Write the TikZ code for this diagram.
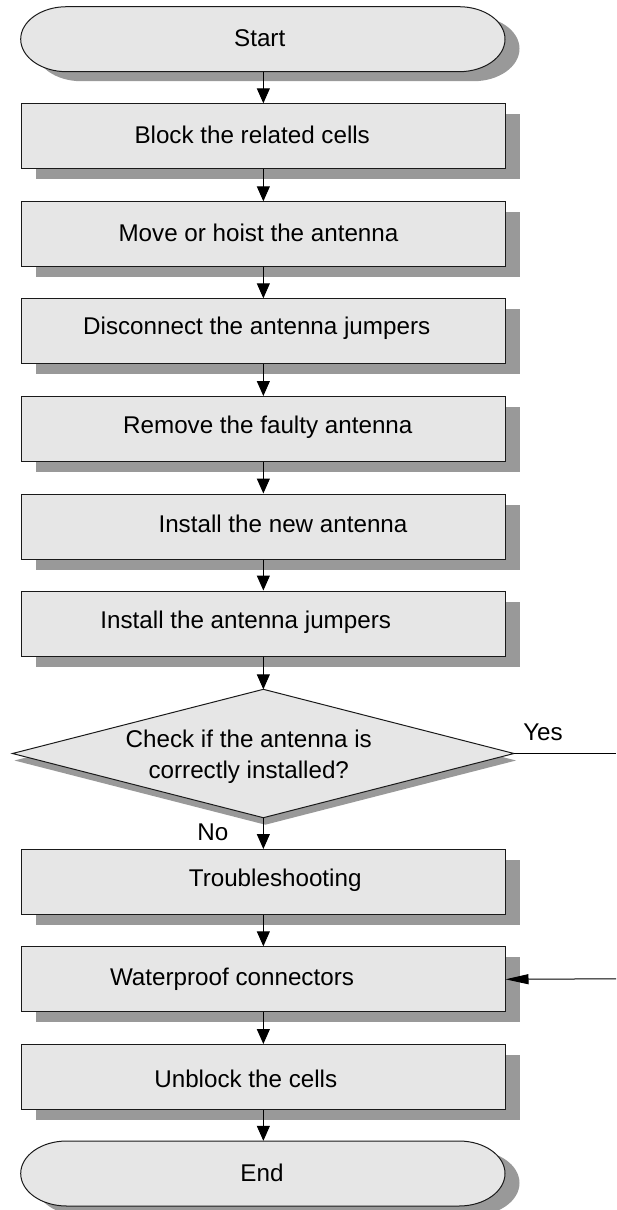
\documentclass[tikz,border=0pt]{standalone}
\usepackage{fontspec}
\setmainfont{Liberation Sans}
\usetikzlibrary{arrows.meta,shadows}
\definecolor{boxfill}{HTML}{E6E6E6}
\definecolor{shadowgray}{HTML}{999999}
\definecolor{edgecol}{HTML}{1A1A1A}
\begin{document}
\begin{tikzpicture}[x=1pt,y=-1pt,
  boxshadow/.style={drop shadow={shadow xshift=14.5pt,shadow yshift=-10.5pt,fill=shadowgray,opacity=1}},
  stepbox/.style={draw=edgecol,line width=1pt,fill=boxfill,minimum width=483.3pt,minimum height=65pt,inner sep=0pt,anchor=north,boxshadow},
  shapefill/.style={draw=edgecol,line width=1pt,fill=boxfill},
  anchorbox/.style={draw=none,fill=none,minimum width=484.3pt,minimum height=65pt,inner sep=0pt},
  lbl/.style={anchor=base,inner sep=0pt,font=\fontsize{24.2}{29}\selectfont},
  flow/.style={draw=black,line width=1pt,-{Triangle[length=15pt,width=13pt]}},
  plainline/.style={draw=black,line width=1pt},
  sideflow/.style={draw=black,line width=1pt,-{Triangle[length=23pt,width=10pt]}},
]
\useasboundingbox (0,0) rectangle (616,1210);

% Start terminal
\path[shapefill,drop shadow={shadow xshift=14.5pt,shadow yshift=-9.5pt,fill=shadowgray,opacity=1}]
  (66.7,6.7) -- (459,6.7) arc[start angle=90,end angle=-90,x radius=46pt,y radius=32.5pt]
  -- (66.7,71.7) arc[start angle=270,end angle=90,x radius=46pt,y radius=32.5pt] -- cycle;
\node[anchorbox] (start) at (263.35,39.2) {};
\node[lbl] (startlbl) at (259.7,46.7) {Start};

% Process boxes
\node[stepbox] (b1) at (263.35,103.3) {};
\node[lbl] (b1lbl) at (252.2,143.3) {Block the related cells};
\node[stepbox] (b2) at (263.35,201.3) {};
\node[lbl] (b2lbl) at (258.5,241) {Move or hoist the antenna};
\node[stepbox] (b3) at (263.35,298.3) {};
\node[lbl] (b3lbl) at (256.7,334.3) {Disconnect the antenna jumpers};
\node[stepbox] (b4) at (263.35,396) {};
\node[lbl] (b4lbl) at (267.8,433.3) {Remove the faulty antenna};
\node[stepbox] (b5) at (263.35,493.5) {};
\node[lbl] (b5lbl) at (283,532.7) {Install the new antenna};
\node[stepbox] (b6) at (263.35,590.5) {};
\node[lbl] (b6lbl) at (245.7,628.3) {Install the antenna jumpers};

% Decision
\path[shapefill,drop shadow={shadow xshift=2pt,shadow yshift=-7pt,fill=shadowgray,opacity=1}]
  (263.35,689.3) -- (514,753.5) -- (263.35,817.7) -- (12.5,753.5) -- cycle;
\coordinate (chkN) at (263.35,689.3);
\coordinate (chkE) at (514,753.5);
\coordinate (chkS) at (263.35,817.7);
\node[lbl] (chk1) at (248.8,747.3) {Check if the antenna is};
\node[lbl] (chk2) at (248.8,778.3) {correctly installed?};
\node[lbl] (yeslbl) at (543,740) {Yes};
\node[lbl] (nolbl) at (212.8,840) {No};

\node[stepbox] (b7) at (263.35,849) {};
\node[lbl] (b7lbl) at (275.2,886.7) {Troubleshooting};
\node[stepbox] (b8) at (263.35,946.3) {};
\node[lbl] (b8lbl) at (232,985) {Waterproof connectors};
\node[stepbox] (b9) at (263.35,1044) {};
\node[lbl] (b9lbl) at (245.8,1087.7) {Unblock the cells};

% End terminal
\path[shapefill,drop shadow={shadow xshift=14.5pt,shadow yshift=-9.5pt,fill=shadowgray,opacity=1}]
  (66.7,1141) -- (459,1141) arc[start angle=90,end angle=-90,x radius=46pt,y radius=32.5pt]
  -- (66.7,1206) arc[start angle=270,end angle=90,x radius=46pt,y radius=32.5pt] -- cycle;
\node[anchorbox] (endnode) at (263.35,1173.5) {};
\node[lbl] (endlbl) at (262,1181) {End};

% Connectors
\draw[flow] (start.south) -- (b1.north);
\draw[flow] (b1.south) -- (b2.north);
\draw[flow] (b2.south) -- (b3.north);
\draw[flow] (b3.south) -- (b4.north);
\draw[flow] (b4.south) -- (b5.north);
\draw[flow] (b5.south) -- (b6.north);
\draw[flow] (b6.south) -- (chkN);
\draw[flow] (chkS) -- (b7.north);
\draw[flow] (b7.south) -- (b8.north);
\draw[flow] (b8.south) -- (b9.north);
\draw[flow] (b9.south) -- (endnode.north);

\coordinate (yesout) at (616,753.5);
\coordinate (wpin) at (616,978.8);
\draw[plainline] (chkE) -- (yesout);
\draw[sideflow] (wpin) -- (b8.east);
\end{tikzpicture}
\end{document}
